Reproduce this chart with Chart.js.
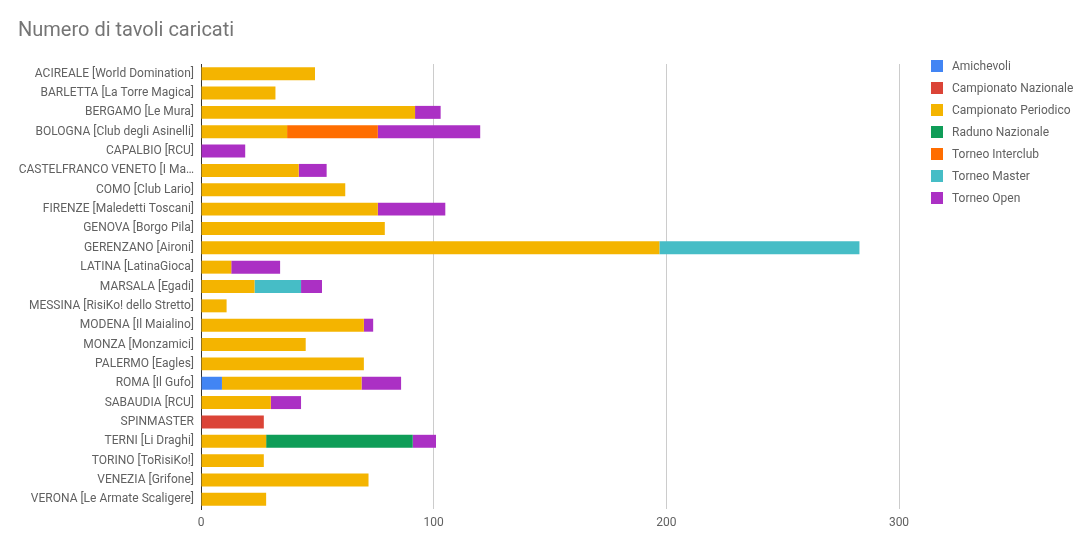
<!DOCTYPE html>
<html>
<head>
<meta charset="utf-8">
<script src="https://cdn.jsdelivr.net/npm/chart.js@4"></script>
<style>
  html, body { margin: 0; padding: 0; background: #fff; }
  body { width: 1091px; height: 543px; position: relative; overflow: hidden; font-family: Roboto, "Noto Sans", sans-serif; }
  #title { position: absolute; left: 18px; top: 17px; font-size: 20px; color: #757575; line-height: 24px; }
  #wrap { position: absolute; left: 0; top: 0; width: 1091px; height: 543px; }
  #legend { position: absolute; left: 931px; top: 55px; }
  .li { height: 22px; display: flex; align-items: center; font-size: 12px; color: #616161; }
  .sw { width: 12px; height: 12px; margin-right: 9px; flex: none; }
</style>
</head>
<body>
<div id="wrap"><canvas id="c" width="1091" height="543"></canvas></div>
<div id="title">Numero di tavoli caricati</div>
<div id="legend"></div>
<script>
const categories = [
  "ACIREALE [World Domination]",
  "BARLETTA [La Torre Magica]",
  "BERGAMO [Le Mura]",
  "BOLOGNA [Club degli Asinelli]",
  "CAPALBIO [RCU]",
  "CASTELFRANCO VENETO [I Ma…",
  "COMO [Club Lario]",
  "FIRENZE [Maledetti Toscani]",
  "GENOVA [Borgo Pila]",
  "GERENZANO [Aironi]",
  "LATINA [LatinaGioca]",
  "MARSALA [Egadi]",
  "MESSINA [RisiKo! dello Stretto]",
  "MODENA [Il Maialino]",
  "MONZA [Monzamici]",
  "PALERMO [Eagles]",
  "ROMA [Il Gufo]",
  "SABAUDIA [RCU]",
  "SPINMASTER",
  "TERNI [Li Draghi]",
  "TORINO [ToRisiKo!]",
  "VENEZIA [Grifone]",
  "VERONA [Le Armate Scaligere]"
];
const seriesNames = ["Amichevoli","Campionato Nazionale","Campionato Periodico","Raduno Nazionale","Torneo Interclub","Torneo Master","Torneo Open"];
const amichevoli          = [0,0,0,0,0,0,0,0,0,0,0,0,0,0,0,0,9,0,0,0,0,0,0];
const campionatoNazionale = [0,0,0,0,0,0,0,0,0,0,0,0,0,0,0,0,0,0,27,0,0,0,0];
const campionatoPeriodico = [49,32,92,37,0,42,62,76,79,197,13,23,11,70,45,70,60,30,0,28,27,72,28];
const radunoNazionale     = [0,0,0,0,0,0,0,0,0,0,0,0,0,0,0,0,0,0,0,63,0,0,0];
const torneoInterclub     = [0,0,0,39,0,0,0,0,0,0,0,0,0,0,0,0,0,0,0,0,0,0,0];
const torneoMaster        = [0,0,0,0,0,0,0,0,0,86,0,20,0,0,0,0,0,0,0,0,0,0,0];
const torneoOpen          = [0,0,11,44,19,12,0,29,0,0,21,9,0,4,0,0,17,13,0,10,0,0,0];
const xTicks = [0,100,200,300];

const colors = ["#4285F4","#DB4437","#F4B400","#0F9D58","#FF6D00","#46BDC6","#AB30C4"];
const seriesData = [amichevoli,campionatoNazionale,campionatoPeriodico,radunoNazionale,torneoInterclub,torneoMaster,torneoOpen];

const datasets = seriesNames.map((n,i)=>({
  label: n,
  data: seriesData[i],
  backgroundColor: colors[i],
  borderWidth: 0,
  barPercentage: 0.67,
  categoryPercentage: 1.0
}));

const legend = document.getElementById('legend');
seriesNames.forEach((n,i)=>{
  const d = document.createElement('div'); d.className='li';
  const s = document.createElement('span'); s.className='sw'; s.style.background=colors[i];
  const t = document.createElement('span'); t.textContent = n;
  d.appendChild(s); d.appendChild(t); legend.appendChild(d);
});

new Chart(document.getElementById('c'), {
  type: 'bar',
  data: { labels: categories, datasets },
  options: {
    indexAxis: 'y',
    responsive: false,
    animation: false,
    layout: { padding: { top: 64, right: 192, bottom: 0, left: 0 } },
    plugins: { legend: { display: false }, tooltip: { enabled: false }, title: { display: false } },
    scales: {
      x: {
        stacked: true,
        min: 0, max: 300,
        afterBuildTicks: (s) => { s.ticks = xTicks.map(v=>({value:v})); },
        afterFit: (s) => { s.height = 34; },
        grid: {
          drawTicks: false,
          color: '#cccccc',
          lineWidth: 1
        },
        border: { display: false },
        ticks: { padding: 7, color: '#616161', font: { family: 'Roboto', size: 12 } }
      },
      y: {
        stacked: true,
        z: 1,
        afterFit: (s) => { s.width = 201; },
        grid: { display: false, drawTicks: false },
        border: { display: true, color: '#333333', width: 1 },
        ticks: { padding: 7, color: '#616161', autoSkip: false, font: { family: 'Roboto', size: 12 } }
      }
    }
  }
});
</script>
</body>
</html>
